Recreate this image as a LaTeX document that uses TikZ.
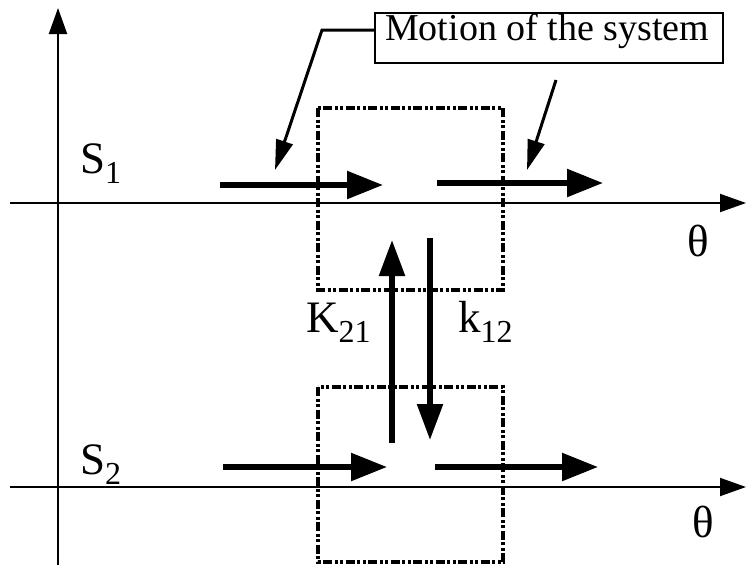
\documentclass[tikz,border=0pt]{standalone}
\usepackage{fontspec}
\setmainfont{Liberation Serif}
\usetikzlibrary{arrows.meta}
\newcommand\lsub[1]{\raisebox{-10pt}{\fontsize{32}{36}\selectfont #1}}
\begin{document}
\begin{tikzpicture}[x=1pt,y=-1pt,
  axis/.style={line width=2pt,-{Triangle[length=26pt,width=18pt]}},
  motion/.style={line width=5.5pt,-{Triangle[length=36pt,width=27pt]}},
  rate/.style={line width=5.5pt,-{Triangle[length=36pt,width=25pt]}},
  leader/.style={line width=3pt,-{Triangle[length=30pt,width=17pt]}},
  zone/.style={line width=3.6pt,dash pattern=on 9pt off 2.5pt on 3pt off 2.5pt on 3pt off 2.5pt},
  lab/.style={font=\fontsize{45}{52}\selectfont, inner sep=0pt, anchor=base west}]
\useasboundingbox (0,0) rectangle (746,565);
% axes
\coordinate (ybot) at (58,565);
\coordinate (ytop) at (58,8);
\draw[axis] (ybot) -- (ytop);
\coordinate (a1s) at (10,203);
\coordinate (a1e) at (746,203);
\draw[axis] (a1s) -- (a1e);
\coordinate (a2s) at (10,487);
\coordinate (a2e) at (746,487);
\draw[axis] (a2s) -- (a2e);
% zones
\draw[zone] (318,108) rectangle (503,290);
\draw[zone] (318,387) rectangle (503,562);
% motion arrows
\coordinate (m1a) at (220,185); \coordinate (m1b) at (383,185);
\coordinate (m2a) at (437,183); \coordinate (m2b) at (603,183);
\coordinate (m3a) at (223,467); \coordinate (m3b) at (387,467);
\coordinate (m4a) at (435,467); \coordinate (m4b) at (598,467);
\draw[motion] (m1a) -- (m1b);
\draw[motion] (m2a) -- (m2b);
\draw[motion] (m3a) -- (m3b);
\draw[motion] (m4a) -- (m4b);
% rate arrows
\coordinate (ua) at (392,443); \coordinate (ub) at (392,240);
\coordinate (da) at (430,238); \coordinate (db) at (430,440);
\draw[rate] (ua) -- (ub);
\draw[rate] (da) -- (db);
% callout box
\node[draw, line width=1.6pt, minimum width=348pt, minimum height=50pt, anchor=north west, inner sep=0pt] (mbox) at (374,12) {};
\node[anchor=base west, inner sep=0pt, font=\fontsize{38}{44}\selectfont] (mtext) at (385,40) {Motion of the system};
\coordinate (l1a) at (374,30); \coordinate (l1k) at (322,30); \coordinate (l1b) at (275,170);
\draw[leader] (l1a) -- (l1k) -- (l1b);
\coordinate (l2a) at (556,80); \coordinate (l2b) at (527,170);
\draw[leader] (l2a) -- (l2b);
% labels
\node[lab] (s1) at (80,173) {S\lsub{1}};
\node[lab] (s2) at (80,474) {S\lsub{2}};
\node[lab, anchor=center] (t1) at (698,241) {θ};
\node[lab, anchor=center] (t2) at (703,522) {θ};
\node[lab] (k21) at (306,332) {K\lsub{21}};
\node[lab] (k12) at (458,332) {k\lsub{12}};
\end{tikzpicture}
\end{document}
